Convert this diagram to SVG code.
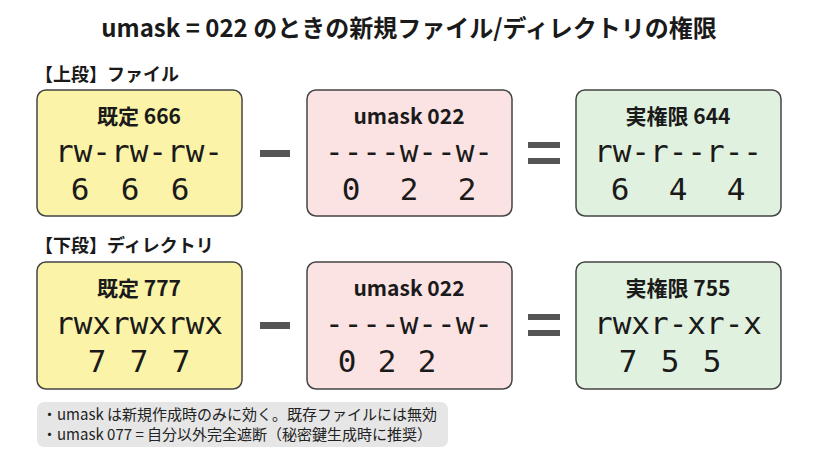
<svg xmlns="http://www.w3.org/2000/svg" width="819" height="457" viewBox="0 0 819 457">
<style>
.t{font-family:"Noto Sans CJK JP","Noto Sans",sans-serif;font-weight:bold;fill:#1a1a1a}
.m{font-family:"DejaVu Sans Mono","Liberation Mono",monospace;font-size:31px;fill:#1a1a1a;text-anchor:middle}
.h{font-size:21px;text-anchor:middle}
.b{stroke:#444;stroke-width:1.5}
.op{fill:#555}
.n{font-family:"Noto Sans CJK JP","Noto Sans",sans-serif;font-size:15px;fill:#222}
</style>
<rect width="819" height="457" fill="#fff"/>
<text class="t" x="409" y="37" font-size="24" text-anchor="middle">umask = 022 のときの新規ファイル/ディレクトリの権限</text>
<text class="t" x="35" y="81" font-size="18">【上段】ファイル</text>
<text class="t" x="35" y="252" font-size="18">【下段】ディレクトリ</text>
<g id="n1"><rect class="b" x="37" y="90" width="205" height="126" rx="9" fill="#fbf3a8"/>
<text class="t h" x="139" y="124">既定 666</text><text class="m" x="139" y="162">rw-rw-rw-</text>
<text class="m" x="80" y="200">6</text><text class="m" x="130" y="200">6</text><text class="m" x="180" y="200">6</text></g>
<g id="n2"><rect class="b" x="307" y="90" width="205" height="126" rx="9" fill="#fce3e3"/>
<text class="t h" x="409" y="124">umask 022</text><text class="m" x="409" y="162">----w--w-</text>
<text class="m" x="351" y="200">0</text><text class="m" x="409" y="200">2</text><text class="m" x="467" y="200">2</text></g>
<g id="n3"><rect class="b" x="576" y="90" width="205" height="126" rx="9" fill="#e1f1df"/>
<text class="t h" x="678" y="124">実権限 644</text><text class="m" x="678" y="162">rw-r--r--</text>
<text class="m" x="620" y="200">6</text><text class="m" x="678" y="200">4</text><text class="m" x="736" y="200">4</text></g>
<g id="n4"><rect class="b" x="37" y="262" width="205" height="127" rx="9" fill="#fbf3a8"/>
<text class="t h" x="139" y="296">既定 777</text><text class="m" x="139" y="334">rwxrwxrwx</text>
<text class="m" x="97" y="372">7</text><text class="m" x="139" y="372">7</text><text class="m" x="181" y="372">7</text></g>
<g id="n5"><rect class="b" x="307" y="262" width="205" height="127" rx="9" fill="#fce3e3"/>
<text class="t h" x="409" y="296">umask 022</text><text class="m" x="409" y="334">----w--w-</text>
<text class="m" x="347" y="372">0</text><text class="m" x="387" y="372">2</text><text class="m" x="427" y="372">2</text></g>
<g id="n6"><rect class="b" x="576" y="262" width="205" height="127" rx="9" fill="#e1f1df"/>
<text class="t h" x="678" y="296">実権限 755</text><text class="m" x="678" y="334">rwxr-xr-x</text>
<text class="m" x="628" y="372">7</text><text class="m" x="670" y="372">5</text><text class="m" x="712" y="372">5</text></g>
<g id="connectors">
<rect class="op" x="260" y="150" width="30" height="7"/>
<rect class="op" x="528" y="142" width="32" height="6"/><rect class="op" x="528" y="158" width="32" height="6"/>
<rect class="op" x="260" y="322" width="30" height="7"/>
<rect class="op" x="528" y="314" width="32" height="6"/><rect class="op" x="528" y="330" width="32" height="6"/>
</g>
<g id="note"><rect x="37" y="402" width="411" height="45" rx="7" fill="#e6e6e6"/>
<text class="n" x="42" y="420">・umask は新規作成時のみに効く。既存ファイルには無効</text>
<text class="n" x="42" y="440">・umask 077 = 自分以外完全遮断（秘密鍵生成時に推奨）</text></g>
</svg>
